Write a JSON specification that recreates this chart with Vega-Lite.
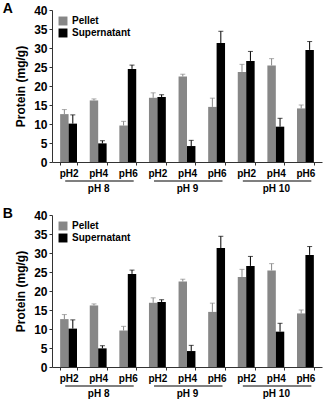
{
  "$schema": "https://vega.github.io/schema/vega-lite/v6.json",
  "padding": {"left": 2, "top": 2, "right": 2, "bottom": 2},
  "background": "white",
  "datasets": {
    "protein": [
      {"sample": "pH 8/pH2", "fraction": "Pellet", "protein": 12.6, "upper": 13.8},
      {"sample": "pH 8/pH2", "fraction": "Supernatant", "protein": 10.1, "upper": 12.4},
      {"sample": "pH 8/pH4", "fraction": "Pellet", "protein": 16.2, "upper": 16.6},
      {"sample": "pH 8/pH4", "fraction": "Supernatant", "protein": 4.9, "upper": 5.6},
      {"sample": "pH 8/pH6", "fraction": "Pellet", "protein": 9.6, "upper": 10.7},
      {"sample": "pH 8/pH6", "fraction": "Supernatant", "protein": 24.5, "upper": 25.5},
      {"sample": "pH 9/pH2", "fraction": "Pellet", "protein": 16.9, "upper": 18.2},
      {"sample": "pH 9/pH2", "fraction": "Supernatant", "protein": 17.1, "upper": 17.7},
      {"sample": "pH 9/pH4", "fraction": "Pellet", "protein": 22.5, "upper": 23.1},
      {"sample": "pH 9/pH4", "fraction": "Supernatant", "protein": 4.2, "upper": 5.7},
      {"sample": "pH 9/pH6", "fraction": "Pellet", "protein": 14.5, "upper": 16.8},
      {"sample": "pH 9/pH6", "fraction": "Supernatant", "protein": 31.3, "upper": 34.4},
      {"sample": "pH 10/pH2", "fraction": "Pellet", "protein": 23.7, "upper": 25.7},
      {"sample": "pH 10/pH2", "fraction": "Supernatant", "protein": 26.6, "upper": 29.1},
      {"sample": "pH 10/pH4", "fraction": "Pellet", "protein": 25.4, "upper": 27.2},
      {"sample": "pH 10/pH4", "fraction": "Supernatant", "protein": 9.3, "upper": 11.5},
      {"sample": "pH 10/pH6", "fraction": "Pellet", "protein": 14.1, "upper": 15.0},
      {"sample": "pH 10/pH6", "fraction": "Supernatant", "protein": 29.5, "upper": 31.7}
    ],
    "groups": [
      {"group": "pH 8", "first": "pH 8/pH2", "last": "pH 8/pH6"},
      {"group": "pH 9", "first": "pH 9/pH2", "last": "pH 9/pH6"},
      {"group": "pH 10", "first": "pH 10/pH2", "last": "pH 10/pH6"}
    ]
  },
  "vconcat": [
    {
      "title": {"text": "A", "anchor": "start", "frame": "bounds", "offset": -12, "dx": -12},
      "width": 270,
      "height": 152,
      "layer": [
        {
          "data": {"name": "protein"},
          "mark": {"type": "bar"},
          "encoding": {
            "x": {"field": "sample", "type": "nominal", "sort": null,
                  "scale": {"paddingInner": 0.43, "paddingOuter": 0.275},
                  "axis": {"title": null, "labelAngle": 0, "tickBand": "extent",
                           "labelExpr": "split(datum.value,'/')[1] == 'pH4' ? [split(datum.value,'/')[1], split(datum.value,'/')[0]] : split(datum.value,'/')[1]"}},
            "xOffset": {"field": "fraction", "type": "nominal"},
            "y": {"field": "protein", "type": "quantitative", "title": "Protein (mg/g)",
                  "scale": {"domain": [0, 40], "nice": false},
                  "axis": {"title": "Protein (mg/g)", "values": [0, 5, 10, 15, 20, 25, 30, 35, 40]}},
            "color": {"field": "fraction", "type": "nominal",
                      "scale": {"domain": ["Pellet", "Supernatant"], "range": ["#878787", "#000000"]},
                      "legend": {"title": null, "orient": "top-left", "offset": 6}}
          }
        },
        {
          "data": {"name": "protein"},
          "mark": {"type": "rule", "strokeWidth": 1},
          "encoding": {
            "x": {"field": "sample", "type": "nominal", "sort": null},
            "xOffset": {"field": "fraction", "type": "nominal"},
            "y": {"field": "protein", "type": "quantitative", "title": "Protein (mg/g)",
                  "axis": {"title": "Protein (mg/g)", "values": [0, 5, 10, 15, 20, 25, 30, 35, 40]}},
            "y2": {"field": "upper"},
            "color": {"field": "fraction", "type": "nominal"}
          }
        },
        {
          "data": {"name": "protein"},
          "mark": {"type": "tick", "size": 5, "thickness": 1},
          "encoding": {
            "x": {"field": "sample", "type": "nominal", "sort": null},
            "xOffset": {"field": "fraction", "type": "nominal"},
            "y": {"field": "upper", "type": "quantitative", "title": "Protein (mg/g)",
                  "axis": {"title": "Protein (mg/g)", "values": [0, 5, 10, 15, 20, 25, 30, 35, 40]}},
            "color": {"field": "fraction", "type": "nominal"}
          }
        },
        {
          "data": {"name": "groups"},
          "mark": {"type": "rule", "strokeWidth": 1.3, "color": "#555555"},
          "encoding": {
            "x": {"field": "first", "type": "nominal", "sort": null, "bandPosition": 0.3},
            "x2": {"field": "last", "bandPosition": 0.85},
            "y": {"datum": -5, "type": "quantitative", "title": "Protein (mg/g)",
                  "axis": {"title": "Protein (mg/g)", "values": [0, 5, 10, 15, 20, 25, 30, 35, 40]}}
          }
        }
      ]
    },
    {
      "title": {"text": "B", "anchor": "start", "frame": "bounds", "offset": -12, "dx": -12},
      "width": 270,
      "height": 152,
      "layer": [
        {
          "data": {"name": "protein"},
          "mark": {"type": "bar"},
          "encoding": {
            "x": {"field": "sample", "type": "nominal", "sort": null,
                  "scale": {"paddingInner": 0.43, "paddingOuter": 0.275},
                  "axis": {"title": null, "labelAngle": 0, "tickBand": "extent",
                           "labelExpr": "split(datum.value,'/')[1] == 'pH4' ? [split(datum.value,'/')[1], split(datum.value,'/')[0]] : split(datum.value,'/')[1]"}},
            "xOffset": {"field": "fraction", "type": "nominal"},
            "y": {"field": "protein", "type": "quantitative", "title": "Protein (mg/g)",
                  "scale": {"domain": [0, 40], "nice": false},
                  "axis": {"title": "Protein (mg/g)", "values": [0, 5, 10, 15, 20, 25, 30, 35, 40]}},
            "color": {"field": "fraction", "type": "nominal",
                      "scale": {"domain": ["Pellet", "Supernatant"], "range": ["#878787", "#000000"]},
                      "legend": {"title": null, "orient": "top-left", "offset": 6}}
          }
        },
        {
          "data": {"name": "protein"},
          "mark": {"type": "rule", "strokeWidth": 1},
          "encoding": {
            "x": {"field": "sample", "type": "nominal", "sort": null},
            "xOffset": {"field": "fraction", "type": "nominal"},
            "y": {"field": "protein", "type": "quantitative", "title": "Protein (mg/g)",
                  "axis": {"title": "Protein (mg/g)", "values": [0, 5, 10, 15, 20, 25, 30, 35, 40]}},
            "y2": {"field": "upper"},
            "color": {"field": "fraction", "type": "nominal"}
          }
        },
        {
          "data": {"name": "protein"},
          "mark": {"type": "tick", "size": 5, "thickness": 1},
          "encoding": {
            "x": {"field": "sample", "type": "nominal", "sort": null},
            "xOffset": {"field": "fraction", "type": "nominal"},
            "y": {"field": "upper", "type": "quantitative", "title": "Protein (mg/g)",
                  "axis": {"title": "Protein (mg/g)", "values": [0, 5, 10, 15, 20, 25, 30, 35, 40]}},
            "color": {"field": "fraction", "type": "nominal"}
          }
        },
        {
          "data": {"name": "groups"},
          "mark": {"type": "rule", "strokeWidth": 1.3, "color": "#555555"},
          "encoding": {
            "x": {"field": "first", "type": "nominal", "sort": null, "bandPosition": 0.3},
            "x2": {"field": "last", "bandPosition": 0.85},
            "y": {"datum": -5, "type": "quantitative", "title": "Protein (mg/g)",
                  "axis": {"title": "Protein (mg/g)", "values": [0, 5, 10, 15, 20, 25, 30, 35, 40]}}
          }
        }
      ]
    }
  ],
  "spacing": 14,
  "resolve": {"legend": {"color": "independent"}},
  "config": {
    "font": "Liberation Sans",
    "view": {"stroke": null},
    "bar": {"stroke": null},
    "title": {"font": "Liberation Sans", "fontSize": 14, "fontWeight": "bold", "color": "#000000"},
    "axis": {
      "labelFont": "Liberation Sans", "labelFontWeight": "bold", "labelColor": "#000000",
      "titleFont": "Liberation Sans", "titleFontWeight": "bold", "titleColor": "#000000",
      "domainColor": "#333333", "tickColor": "#333333", "grid": false, "tickSize": 3,
      "labelOverlap": false
    },
    "axisY": {"labelFontSize": 12, "labelPadding": 2, "titleFontSize": 12, "titlePadding": 6, "labelFlush": false},
    "axisX": {"labelFontSize": 10, "labelPadding": 3, "labelLineHeight": 15},
    "legend": {
      "labelFont": "Liberation Sans", "labelFontWeight": "bold", "labelFontSize": 10, "labelColor": "#000000",
      "symbolType": "square", "symbolSize": 80, "symbolStrokeWidth": 0, "rowPadding": 2, "padding": 0
    }
  }
}
